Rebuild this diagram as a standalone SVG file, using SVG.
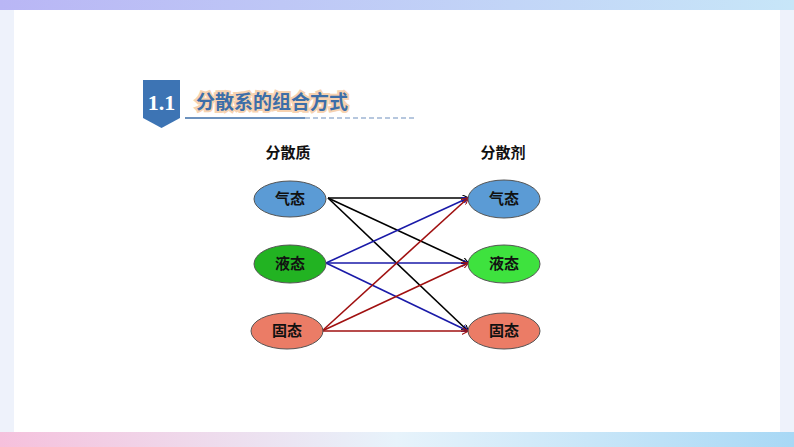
<svg xmlns="http://www.w3.org/2000/svg" width="794" height="447" viewBox="0 0 794 447">
<defs>
<linearGradient id="top" x1="0" x2="1"><stop offset="0" stop-color="#b9b6f5"/><stop offset="1" stop-color="#c7e6f8"/></linearGradient>
<linearGradient id="bot" x1="0" x2="1"><stop offset="0" stop-color="#f6c0dc"/><stop offset="0.5" stop-color="#e7f3fb"/><stop offset="1" stop-color="#a8d8f5"/></linearGradient>
<marker id="ak" viewBox="0 0 10 10" refX="9" refY="5" markerWidth="7" markerHeight="7" orient="auto" markerUnits="userSpaceOnUse"><path d="M0,0 L10,5 L0,10" fill="none" stroke="#000" stroke-width="1.5"/></marker>
<marker id="ab" viewBox="0 0 10 10" refX="9" refY="5" markerWidth="7" markerHeight="7" orient="auto" markerUnits="userSpaceOnUse"><path d="M0,0 L10,5 L0,10" fill="none" stroke="#1a1aa8" stroke-width="1.5"/></marker>
<marker id="ar" viewBox="0 0 10 10" refX="9" refY="5" markerWidth="7" markerHeight="7" orient="auto" markerUnits="userSpaceOnUse"><path d="M0,0 L10,5 L0,10" fill="none" stroke="#a01010" stroke-width="1.5"/></marker>
<style>
text{font-family:"Noto Sans CJK SC","Liberation Sans",sans-serif;font-weight:bold;text-anchor:middle}
.n{font-size:15px;fill:#111}
.e{stroke:#555;stroke-width:1}
.k{stroke:#000;stroke-width:1.6;marker-end:url(#ak)}
.b{stroke:#1a1aa8;stroke-width:1.6;marker-end:url(#ab)}
.r{stroke:#a01010;stroke-width:1.6;marker-end:url(#ar)}
</style>
</defs>
<rect width="794" height="447" fill="#eef2fb"/>
<rect x="0" y="0" width="794" height="10" fill="url(#top)"/>
<rect x="0" y="432" width="794" height="15" fill="url(#bot)"/>
<rect x="14" y="10" width="766" height="422" fill="#fff"/>
<g id="title">
<path d="M143,80 H180 V118 L161.5,128 L143,118 Z" fill="#3d74b4"/>
<text x="161.5" y="110" style="font-family:'Liberation Serif',serif;font-size:22px;fill:#fff">1.1</text>
<text x="272" y="109" style="font-size:19px;fill:#3d6ea8;stroke:#f7d2b0;stroke-width:4;paint-order:stroke">分散系的组合方式</text>
<line x1="185" y1="118" x2="305" y2="118" stroke="#3d6ea8" stroke-width="1.5"/>
<line x1="305" y1="118" x2="415" y2="118" stroke="#9fb5d3" stroke-width="1.5" stroke-dasharray="5,3"/>
</g>
<text x="288" y="158" class="n">分散质</text>
<text x="503" y="158" class="n">分散剂</text>
<g id="connectors" fill="none">
<line x1="328" y1="198" x2="468" y2="198" class="k"/>
<line x1="328" y1="198" x2="468" y2="263" class="k"/>
<line x1="328" y1="198" x2="468" y2="331" class="k"/>
<line x1="326" y1="263" x2="468" y2="198" class="b"/>
<line x1="326" y1="263" x2="468" y2="263" class="b"/>
<line x1="326" y1="263" x2="468" y2="331" class="b"/>
<line x1="322" y1="331" x2="468" y2="198" class="r"/>
<line x1="322" y1="331" x2="468" y2="263" class="r"/>
<line x1="322" y1="331" x2="468" y2="331" class="r"/>
</g>
<g id="l1"><ellipse cx="290" cy="199" rx="36" ry="18" fill="#5b9bd5" class="e"/><text x="290" y="204" class="n">气态</text></g>
<g id="l2"><ellipse cx="290" cy="264" rx="36" ry="19" fill="#22b322" class="e"/><text x="290" y="269" class="n">液态</text></g>
<g id="l3"><ellipse cx="287" cy="331" rx="36" ry="18" fill="#eb7c66" class="e"/><text x="287" y="336" class="n">固态</text></g>
<g id="r1"><ellipse cx="504" cy="199" rx="36" ry="19" fill="#5b9bd5" class="e"/><text x="504" y="204" class="n">气态</text></g>
<g id="r2"><ellipse cx="504" cy="264" rx="36" ry="19" fill="#3ee23e" class="e"/><text x="504" y="269" class="n">液态</text></g>
<g id="r3"><ellipse cx="504" cy="331" rx="36" ry="18" fill="#eb7c66" class="e"/><text x="504" y="336" class="n">固态</text></g>
</svg>
